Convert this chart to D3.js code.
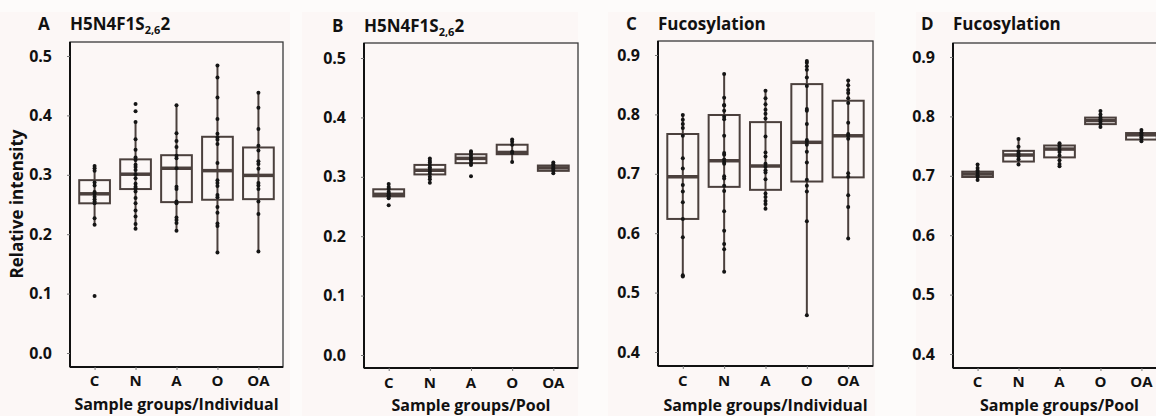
<!DOCTYPE html>
<html>
<head>
<meta charset="utf-8">
<script src="https://cdn.jsdelivr.net/npm/d3@7"></script>
<style>
  body { margin: 0; background: #fdfbfa; }
  svg text { font-family: "Open Sans", "Noto Sans", sans-serif; font-weight: 700; fill: #111; }
</style>
</head>
<body>
<div id="chart"></div>
<script>
// groups on the x axis
const groups = ["C", "N", "A", "O", "OA"];

// tick values
const ticksLow = [0.0, 0.1, 0.2, 0.3, 0.4, 0.5];
const ticksHigh = [0.4, 0.5, 0.6, 0.7, 0.8, 0.9];

// box stats per group: [whisker low, q1, median, q3, whisker high]
const statsA = [
  [0.215, 0.252, 0.268, 0.291, 0.315],
  [0.209, 0.276, 0.301, 0.326, 0.389],
  [0.206, 0.254, 0.311, 0.333, 0.417],
  [0.169, 0.258, 0.307, 0.364, 0.484],
  [0.171, 0.259, 0.299, 0.346, 0.438]
];
const pointsA = [
  [0.315, 0.311, 0.307, 0.287, 0.282, 0.271, 0.268, 0.263, 0.259, 0.255, 0.252, 0.227, 0.216, 0.096],
  [0.419, 0.407, 0.389, 0.360, 0.342, 0.329, 0.325, 0.317, 0.313, 0.308, 0.301, 0.294, 0.285, 0.280, 0.277, 0.272, 0.261, 0.252, 0.240, 0.230, 0.217, 0.209],
  [0.417, 0.370, 0.357, 0.347, 0.332, 0.328, 0.311, 0.280, 0.276, 0.255, 0.252, 0.228, 0.224, 0.219, 0.206],
  [0.484, 0.464, 0.430, 0.394, 0.369, 0.363, 0.359, 0.352, 0.320, 0.291, 0.286, 0.281, 0.266, 0.262, 0.246, 0.236, 0.218, 0.214, 0.169],
  [0.438, 0.413, 0.377, 0.349, 0.341, 0.323, 0.318, 0.310, 0.286, 0.282, 0.276, 0.255, 0.234, 0.171]
];

const statsB = [
  [0.264, 0.267, 0.2705, 0.279, 0.288],
  [0.290, 0.304, 0.311, 0.320, 0.331],
  [0.320, 0.323, 0.331, 0.338, 0.343],
  [0.325, 0.338, 0.341, 0.354, 0.363],
  [0.306, 0.310, 0.315, 0.319, 0.324]
];
const pointsB = [
  [0.288, 0.283, 0.280, 0.275, 0.272, 0.269, 0.267, 0.264, 0.252],
  [0.331, 0.327, 0.324, 0.320, 0.316, 0.313, 0.309, 0.305, 0.300, 0.296, 0.290],
  [0.343, 0.340, 0.336, 0.332, 0.329, 0.327, 0.323, 0.320, 0.301],
  [0.363, 0.359, 0.354, 0.342, 0.340, 0.325],
  [0.324, 0.321, 0.318, 0.315, 0.313, 0.310, 0.306]
];

const statsC = [
  [0.528, 0.624, 0.695, 0.767, 0.799],
  [0.535, 0.678, 0.722, 0.799, 0.868],
  [0.641, 0.673, 0.713, 0.787, 0.840],
  [0.462, 0.687, 0.753, 0.851, 0.890],
  [0.591, 0.694, 0.764, 0.823, 0.857]
];
const pointsC = [
  [0.799, 0.791, 0.784, 0.777, 0.764, 0.726, 0.709, 0.681, 0.670, 0.652, 0.624, 0.593, 0.529, 0.527],
  [0.868, 0.828, 0.816, 0.815, 0.806, 0.796, 0.792, 0.764, 0.735, 0.732, 0.724, 0.720, 0.717, 0.696, 0.692, 0.680, 0.671, 0.637, 0.604, 0.582, 0.573, 0.535],
  [0.840, 0.827, 0.817, 0.808, 0.801, 0.793, 0.763, 0.736, 0.729, 0.717, 0.712, 0.706, 0.702, 0.691, 0.667, 0.661, 0.654, 0.649, 0.641],
  [0.890, 0.887, 0.881, 0.875, 0.862, 0.848, 0.809, 0.806, 0.784, 0.757, 0.754, 0.749, 0.737, 0.719, 0.690, 0.680, 0.670, 0.620, 0.462],
  [0.857, 0.849, 0.841, 0.836, 0.827, 0.819, 0.786, 0.767, 0.764, 0.759, 0.701, 0.695, 0.664, 0.644, 0.591]
];

const statsD = [
  [0.693, 0.698, 0.703, 0.707, 0.719],
  [0.719, 0.724, 0.735, 0.742, 0.762],
  [0.716, 0.731, 0.745, 0.751, 0.755],
  [0.782, 0.787, 0.793, 0.798, 0.809],
  [0.758, 0.761, 0.769, 0.772, 0.777]
];
const pointsD = [
  [0.719, 0.713, 0.709, 0.705, 0.701, 0.698, 0.693],
  [0.762, 0.749, 0.741, 0.737, 0.733, 0.728, 0.719],
  [0.755, 0.752, 0.749, 0.744, 0.740, 0.734, 0.726, 0.720, 0.716],
  [0.809, 0.803, 0.798, 0.795, 0.791, 0.787, 0.782],
  [0.777, 0.773, 0.771, 0.768, 0.765, 0.762, 0.758]
];

const W = 1156, H = 416;
const lineColor = "#4b403d";

const svg = d3.select("#chart").append("svg")
  .attr("width", W)
  .attr("height", H);

// light panel backgrounds
const bgs = [[0, 12, 290, 404], [302, 12, 276, 404], [608, 12, 267, 404], [916, 12, 240, 404]];
svg.selectAll("rect.bg").data(bgs).enter().append("rect")
  .attr("class", "bg")
  .attr("x", d => d[0]).attr("y", d => d[1])
  .attr("width", d => d[2]).attr("height", d => d[3])
  .attr("fill", "#fcf7f6");

const panels = [
  {letter: "A", title: "glycan", left: 70, right: 283, top: 42, bottom: 367, dom: [0, 0.5], rng: [353, 56],
   ticks: ticksLow, stats: statsA, points: pointsA, xlab: "Sample groups/Individual", xlabY: 410, catY: 386, titleY: 30},
  {letter: "B", title: "glycan", left: 364, right: 578, top: 43, bottom: 368, dom: [0, 0.5], rng: [355, 58],
   ticks: ticksLow, stats: statsB, points: pointsB, xlab: "Sample groups/Pool", xlabY: 411, catY: 388, titleY: 32},
  {letter: "C", title: "Fucosylation", left: 658, right: 873, top: 41, bottom: 366, dom: [0.4, 0.9], rng: [352, 55],
   ticks: ticksHigh, stats: statsC, points: pointsC, xlab: "Sample groups/Individual", xlabY: 411, catY: 386, titleY: 30},
  {letter: "D", title: "Fucosylation", left: 953, right: 1166, top: 43, bottom: 368, dom: [0.4, 0.9], rng: [354, 57],
   ticks: ticksHigh, stats: statsD, points: pointsD, xlab: "Sample groups/Pool", xlabY: 411, catY: 387, titleY: 30}
];

panels.forEach(p => {
  const g = svg.append("g");
  const x = d3.scalePoint().domain(groups).range([p.left, p.right]).padding(0.6);
  const y = d3.scaleLinear().domain(p.dom).range(p.rng);
  const bw = x.step() * 0.75;

  // frame
  g.append("rect")
    .attr("x", p.left).attr("y", p.top)
    .attr("width", p.right - p.left).attr("height", p.bottom - p.top)
    .attr("fill", "none").attr("stroke", "#3a3a3a").attr("stroke-width", 1.3);

  // y axis
  const yAxis = g.append("g")
    .attr("transform", `translate(${p.left},0)`)
    .call(d3.axisLeft(y).tickValues(p.ticks).tickFormat(d3.format(".1f")).tickSize(3).tickPadding(15));
  yAxis.select(".domain").attr("stroke", "#111").attr("stroke-width", 2)
    .attr("d", `M0,${p.top}V${p.bottom}`);
  yAxis.selectAll(".tick line").attr("stroke", "#777");
  yAxis.selectAll(".tick text").style("font-size", "16px").style("font-family", "'Open Sans', sans-serif")
    .style("font-weight", 700).attr("fill", "#111");

  // x axis
  const xAxis = g.append("g")
    .attr("transform", `translate(0,${p.bottom})`)
    .call(d3.axisBottom(x).tickSize(3).tickPadding(6));
  xAxis.select(".domain").attr("stroke", "#111").attr("stroke-width", 2)
    .attr("d", `M${p.left},0H${p.right}`);
  xAxis.selectAll(".tick line").attr("stroke", "#777");
  xAxis.selectAll(".tick text").remove();
  g.selectAll("text.cat").data(groups).enter().append("text")
    .attr("class", "cat")
    .attr("x", d => x(d)).attr("y", p.catY)
    .attr("text-anchor", "middle")
    .style("font-size", "15px")
    .text(d => d);

  // whiskers (full range line through the box)
  g.selectAll("line.whisk").data(p.stats).enter().append("line")
    .attr("x1", (d, i) => x(groups[i])).attr("x2", (d, i) => x(groups[i]))
    .attr("y1", d => y(d[0])).attr("y2", d => y(d[4]))
    .attr("stroke", lineColor).attr("stroke-width", 2);

  // boxes
  g.selectAll("rect.box").data(p.stats).enter().append("rect")
    .attr("x", (d, i) => x(groups[i]) - bw / 2)
    .attr("y", d => y(d[3]))
    .attr("width", bw)
    .attr("height", d => y(d[1]) - y(d[3]))
    .attr("fill", "none").attr("stroke", lineColor).attr("stroke-width", 2);

  // medians
  g.selectAll("line.med").data(p.stats).enter().append("line")
    .attr("x1", (d, i) => x(groups[i]) - bw / 2).attr("x2", (d, i) => x(groups[i]) + bw / 2)
    .attr("y1", d => y(d[2])).attr("y2", d => y(d[2]))
    .attr("stroke", lineColor).attr("stroke-width", 3.5);

  // points
  p.points.forEach((vals, i) => {
    g.selectAll(null).data(vals).enter().append("circle")
      .attr("cx", x(groups[i]))
      .attr("cy", d => y(d))
      .attr("r", 2)
      .attr("fill", "#151515");
  });

  // x label
  g.append("text")
    .attr("x", (p.left + p.right) / 2).attr("y", p.xlabY)
    .attr("text-anchor", "middle")
    .style("font-size", "16px")
    .text(p.xlab);

  // title
  g.append("text")
    .attr("x", p.left - 32).attr("y", p.titleY)
    .style("font-size", "17px")
    .text(p.letter);
  const t = g.append("text")
    .attr("x", p.left).attr("y", p.titleY)
    .style("font-size", "17px");
  if (p.title === "glycan") {
    t.append("tspan").text("H5N4F1S");
    t.append("tspan").attr("dy", 4).style("font-size", "11px").text("2,6");
    t.append("tspan").attr("dy", -4).text("2");
  } else {
    t.text(p.title);
  }
});

// y label for panel A
svg.append("text")
  .attr("transform", "translate(23,204) rotate(-90)")
  .attr("text-anchor", "middle")
  .style("font-size", "17px")
  .text("Relative intensity");
</script>
</body>
</html>
